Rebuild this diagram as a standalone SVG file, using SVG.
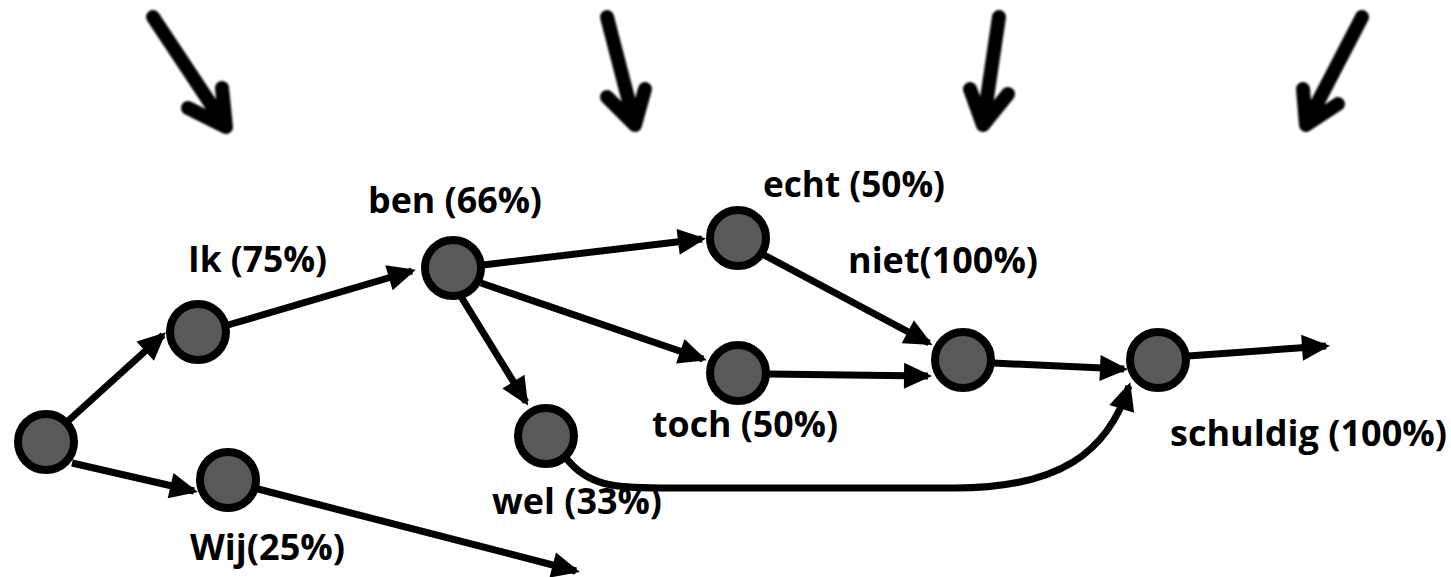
<svg xmlns="http://www.w3.org/2000/svg" width="1451" height="577" viewBox="0 0 1451 577">
<style>
.node{fill:#595959;stroke:#000;stroke-width:8}
.edge{fill:none;stroke:#000;stroke-width:7}
.big{fill:none;stroke:#000;stroke-width:14;stroke-linecap:round;stroke-linejoin:round}
.lbl{font-family:"Open Sans","Liberation Sans",sans-serif;font-weight:bold;font-size:36px;fill:#000}
</style>
<defs>
<marker id="ah" markerUnits="userSpaceOnUse" markerWidth="32" markerHeight="28" refX="24" refY="13" orient="auto" overflow="visible">
<path d="M0,0 L28,13 L0,26 Z" fill="#000"/>
</marker>
<filter id="soft" x="-20%" y="-20%" width="140%" height="140%"><feGaussianBlur stdDeviation="0.8"/></filter>
</defs>
<rect width="1451" height="577" fill="#fff"/>
<g id="pointers" filter="url(#soft)">
<path class="big" d="M153,17 L226,127 M188,108 L226,127 L222,88"/>
<path class="big" d="M607,17 L635,125 M607,97 L635,125 L645,89"/>
<path class="big" d="M999,17 L983,125 M970,89 L983,125 L1008,94"/>
<path class="big" d="M1362,17 L1306,125 M1303,89 L1306,125 L1338,104"/>
</g>
<g id="connectors">
<line class="edge" x1="68" y1="421" x2="163" y2="335" marker-end="url(#ah)"/>
<line class="edge" x1="72" y1="463" x2="194" y2="491" marker-end="url(#ah)"/>
<line class="edge" x1="228" y1="325" x2="412" y2="271" marker-end="url(#ah)"/>
<line class="edge" x1="258" y1="489" x2="576" y2="571" marker-end="url(#ah)"/>
<line class="edge" x1="483" y1="265" x2="702" y2="239" marker-end="url(#ah)"/>
<line class="edge" x1="481" y1="283" x2="703" y2="359" marker-end="url(#ah)"/>
<line class="edge" x1="460" y1="295" x2="526" y2="402" marker-end="url(#ah)"/>
<line class="edge" x1="764" y1="255" x2="929" y2="343" marker-end="url(#ah)"/>
<line class="edge" x1="768" y1="374" x2="928" y2="376" marker-end="url(#ah)"/>
<line class="edge" x1="993" y1="363" x2="1124" y2="369" marker-end="url(#ah)"/>
<path class="edge" d="M566,458 C588,486 615,488 660,488 L955,488 C1060,488 1108,452 1129,386" marker-end="url(#ah)"/>
<line class="edge" x1="1188" y1="356" x2="1326" y2="346" marker-end="url(#ah)"/>
</g>
<g id="n-start"><circle class="node" cx="46" cy="442" r="28"/></g>
<g id="n-ik"><circle class="node" cx="198" cy="332" r="28"/><text class="lbl" x="188" y="272" textLength="139" lengthAdjust="spacingAndGlyphs">Ik (75%)</text></g>
<g id="n-wij"><circle class="node" cx="228" cy="480" r="28"/><text class="lbl" x="190" y="560" textLength="155" lengthAdjust="spacingAndGlyphs">Wij(25%)</text></g>
<g id="n-ben"><circle class="node" cx="453" cy="268" r="28"/><text class="lbl" x="368" y="213" textLength="174" lengthAdjust="spacingAndGlyphs">ben (66%)</text></g>
<g id="n-echt"><circle class="node" cx="738" cy="238" r="28"/><text class="lbl" x="763" y="197" textLength="182" lengthAdjust="spacingAndGlyphs">echt (50%)</text></g>
<g id="n-toch"><circle class="node" cx="738" cy="373" r="28"/><text class="lbl" x="652" y="437" textLength="186" lengthAdjust="spacingAndGlyphs">toch (50%)</text></g>
<g id="n-wel"><circle class="node" cx="546" cy="436" r="28"/><text class="lbl" x="492" y="514" textLength="170" lengthAdjust="spacingAndGlyphs">wel (33%)</text></g>
<g id="n-niet"><circle class="node" cx="963" cy="360" r="28"/><text class="lbl" x="848" y="273" textLength="190" lengthAdjust="spacingAndGlyphs">niet(100%)</text></g>
<g id="n-schuldig"><circle class="node" cx="1158" cy="360" r="28"/><text class="lbl" x="1170" y="446" textLength="277" lengthAdjust="spacingAndGlyphs">schuldig (100%)</text></g>
</svg>
